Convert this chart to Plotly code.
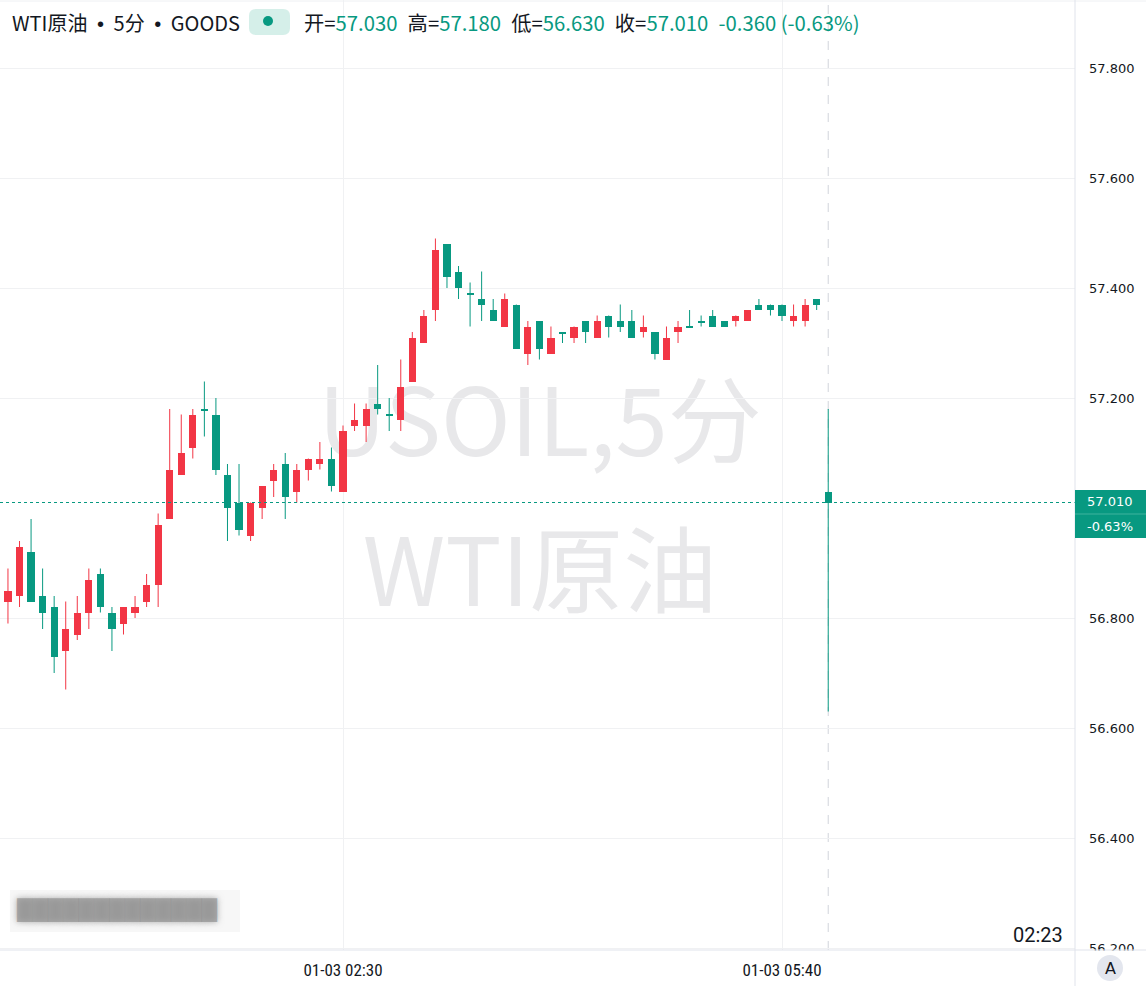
import plotly.graph_objects as go

# ---------------- data ----------------
TIMES = ["00:00", "00:05", "00:10", "00:15", "00:20", "00:25", "00:30", "00:35", "00:40", "00:45",
         "00:50", "00:55", "01:00", "01:05", "01:10", "01:15", "01:20", "01:25", "01:30", "01:35",
         "01:40", "01:45", "01:50", "01:55", "02:00", "02:05", "02:10", "02:15", "02:20", "02:25",
         "02:30", "02:35", "02:40", "02:45", "02:50", "02:55", "03:00", "03:05", "03:10", "03:15",
         "03:20", "03:25", "03:30", "03:35", "03:40", "03:45", "03:50", "03:55", "04:00", "04:05",
         "04:10", "04:15", "04:20", "04:25", "04:30", "04:35", "04:40", "04:45", "04:50", "04:55",
         "05:00", "05:05", "05:10", "05:15", "05:20", "05:25", "05:30", "05:35", "05:40", "05:45",
         "05:50", "05:55", "06:00"]

OPEN = [56.81, 56.83, 56.84, 56.92, 56.84, 56.82, 56.74, 56.77, 56.81, 56.88,
        56.81, 56.79, 56.81, 56.83, 56.86, 56.98, 57.06, 57.11, 57.180, 57.17,
        57.06, 57.01, 56.95, 57.00, 57.05, 57.08, 57.03, 57.07, 57.08, 57.09,
        57.03, 57.15, 57.15, 57.19, 57.170, 57.16, 57.23, 57.30, 57.36, 57.48,
        57.43, 57.390, 57.38, 57.36, 57.33, 57.37, 57.28, 57.34, 57.28, 57.320,
        57.31, 57.34, 57.31, 57.35, 57.34, 57.34, 57.32, 57.32, 57.27, 57.32,
        57.330, 57.340, 57.35, 57.34, 57.34, 57.34, 57.37, 57.37, 57.37, 57.34,
        57.34, 57.38, 57.03]
HIGH = [56.85, 56.89, 56.94, 56.98, 56.89, 56.84, 56.83, 56.84, 56.89, 56.89,
        56.82, 56.82, 56.84, 56.88, 56.99, 57.18, 57.17, 57.18, 57.23, 57.20,
        57.08, 57.08, 57.01, 57.04, 57.08, 57.10, 57.08, 57.09, 57.12, 57.11,
        57.15, 57.19, 57.19, 57.26, 57.20, 57.27, 57.32, 57.36, 57.49, 57.48,
        57.44, 57.41, 57.43, 57.38, 57.39, 57.37, 57.34, 57.34, 57.33, 57.32,
        57.33, 57.34, 57.35, 57.35, 57.37, 57.36, 57.35, 57.32, 57.33, 57.34,
        57.36, 57.35, 57.36, 57.34, 57.35, 57.36, 57.38, 57.37, 57.37, 57.37,
        57.38, 57.38, 57.18]
LOW = [56.79, 56.79, 56.82, 56.83, 56.78, 56.70, 56.67, 56.76, 56.78, 56.81,
       56.74, 56.77, 56.80, 56.82, 56.82, 56.98, 57.06, 57.09, 57.13, 57.06,
       56.94, 56.95, 56.94, 56.98, 57.02, 56.98, 57.01, 57.05, 57.07, 57.03,
       57.03, 57.14, 57.12, 57.17, 57.14, 57.14, 57.23, 57.30, 57.34, 57.40,
       57.38, 57.33, 57.34, 57.34, 57.33, 57.29, 57.26, 57.27, 57.28, 57.30,
       57.30, 57.30, 57.31, 57.31, 57.32, 57.31, 57.31, 57.27, 57.27, 57.30,
       57.328, 57.33, 57.33, 57.33, 57.33, 57.34, 57.36, 57.35, 57.34, 57.33,
       57.33, 57.36, 56.63]
CLOSE = [56.84, 56.85, 56.93, 56.83, 56.81, 56.73, 56.78, 56.81, 56.87, 56.82,
         56.78, 56.82, 56.82, 56.86, 56.97, 57.07, 57.10, 57.17, 57.178, 57.07,
         57.00, 56.96, 57.01, 57.04, 57.07, 57.02, 57.07, 57.09, 57.09, 57.04,
         57.14, 57.16, 57.18, 57.18, 57.168, 57.22, 57.31, 57.35, 57.47, 57.42,
         57.40, 57.388, 57.37, 57.34, 57.38, 57.29, 57.33, 57.29, 57.31, 57.318,
         57.33, 57.32, 57.34, 57.33, 57.33, 57.31, 57.33, 57.28, 57.31, 57.33,
         57.328, 57.338, 57.33, 57.33, 57.35, 57.36, 57.36, 57.36, 57.35, 57.35,
         57.37, 57.37, 57.01]

Y_TICKS = [56.2, 56.4, 56.6, 56.8, 57.2, 57.4, 57.6, 57.8]
X_TICK_TIMES = ["02:30", "05:40"]
X_TICK_LABELS = ["01-03 02:30", "01-03 05:40"]

SYMBOL = "WTI原油"
INTERVAL = "5分"
EXCHANGE = "GOODS"
TICKER = "USOIL"
CLOCK = "02:23"

# ---------------- styling / geometry ----------------
W, H = 1146, 986
ML, MR, MT, MB = 0, 71, 0, 36
PW, PH = W - ML - MR, H - MT - MB
UP = "#F23645"      # rising candle (red)
DOWN = "#089981"    # falling candle (green)
GRID = "#f0f1f3"
BORDER = "#e0e3eb"
TXT = "#131722"
CJK = "Noto Sans CJK SC, Noto Sans, sans-serif"
NUM = "DejaVu Sans, Verdana, sans-serif"
NARROW = "Liberation Sans Narrow, Arial Narrow, Roboto Condensed, Liberation Sans, sans-serif"
CLOCKFONT = "Roboto, Liberation Sans, sans-serif"

PX_PER_UNIT = 550.0         # vertical pixels per 1.0 price
PX_PER_BAR = 11.553         # horizontal pixels per bar
REF_BAR_PX = 343            # pixel of 02:30 bar

idx = list(range(len(TIMES)))
ref_i = TIMES.index(X_TICK_TIMES[0])
x0 = ref_i - REF_BAR_PX / PX_PER_BAR
x1 = x0 + PW / PX_PER_BAR
y_top = 57.8 + 68 / PX_PER_UNIT
y_bot = y_top - PH / PX_PER_UNIT


def px(xp):
    return xp / PW


def py(yp):
    return 1 - yp / PH


fig = go.Figure()

# wicks
for col, cond in ((UP, lambda o, c: c >= o), (DOWN, lambda o, c: c < o)):
    xs, ys = [], []
    for i, o, h, l, c in zip(idx, OPEN, HIGH, LOW, CLOSE):
        if cond(o, c):
            xs += [i, i, None]
            ys += [l, h, None]
    fig.add_trace(go.Scatter(x=xs, y=ys, mode="lines", line=dict(color=col, width=1),
                             hoverinfo="skip", showlegend=False))

# bodies
bases = [min(o, c) for o, c in zip(OPEN, CLOSE)]
heights = [max(abs(c - o), 0.002) for o, c in zip(OPEN, CLOSE)]
colors = [UP if c >= o else DOWN for o, c in zip(OPEN, CLOSE)]
fig.add_trace(go.Bar(x=idx, y=heights, base=bases, width=0.62, marker=dict(color=colors, line=dict(width=0)),
                     hoverinfo="skip", showlegend=False))

last_c = CLOSE[-1]
prev_c = CLOSE[-2]
chg = last_c - prev_c
pct = chg / prev_c * 100

shapes = []
# watermark (below traces)
shapes.append(dict(type="rect", xref="paper", yref="paper", x0=px(280), x1=px(800), y0=py(485), y1=py(375),
                   line=dict(width=0), fillcolor="rgba(0,0,0,0)", layer="below",
                   label=dict(text=f"{TICKER},{INTERVAL}", font=dict(size=94, color="#e8e8ea", family=CJK),
                              textposition="middle center")))
shapes.append(dict(type="rect", xref="paper", yref="paper", x0=px(280), x1=px(800), y0=py(635), y1=py(525),
                   line=dict(width=0), fillcolor="rgba(0,0,0,0)", layer="below",
                   label=dict(text=SYMBOL, font=dict(size=94, color="#e8e8ea", family=CJK),
                              textposition="middle center")))
# last price dotted line
shapes.append(dict(type="line", xref="paper", yref="y", x0=0, x1=1, y0=last_c, y1=last_c,
                   line=dict(color=DOWN, width=1, dash="dot")))
# session dashed vertical line at last bar
shapes.append(dict(type="line", xref="x", yref="paper", x0=idx[-1], x1=idx[-1], y0=0, y1=1,
                   line=dict(color="#d1d4dc", width=1, dash="dash"), layer="below"))
# price-scale area below the pane (clips the lowest label like the original)
shapes.append(dict(type="rect", xref="paper", yref="paper", x0=px(1076), x1=px(1146), y0=py(986), y1=py(950.5),
                   fillcolor="white", line=dict(width=0)))
# borders
shapes.append(dict(type="line", xref="paper", yref="paper", x0=0, x1=W / PW, y0=py(950), y1=py(950),
                   line=dict(color=BORDER, width=1)))
shapes.append(dict(type="line", xref="paper", yref="paper", x0=0, x1=W / PW, y0=py(1), y1=py(1),
                   line=dict(color="#eef0f3", width=1)))
shapes.append(dict(type="line", xref="paper", yref="paper", x0=1, x1=1, y0=py(986), y1=py(0),
                   line=dict(color=BORDER, width=1)))
# price label box
shapes.append(dict(type="rect", xref="paper", yref="paper", x0=px(1075), x1=px(1146), y0=py(538), y1=py(490),
                   fillcolor=DOWN, line=dict(width=0)))
shapes.append(dict(type="line", xref="paper", yref="paper", x0=px(1075), x1=px(1146), y0=py(514), y1=py(514),
                   line=dict(color="#3fb39e", width=1)))
# legend badge with dot
bx0, bx1, by0, by1, r = 249, 290, 9, 35, 7
path = (f"M {px(bx0 + r)},{py(by0)} L {px(bx1 - r)},{py(by0)} "
        f"Q {px(bx1)},{py(by0)} {px(bx1)},{py(by0 + r)} L {px(bx1)},{py(by1 - r)} "
        f"Q {px(bx1)},{py(by1)} {px(bx1 - r)},{py(by1)} L {px(bx0 + r)},{py(by1)} "
        f"Q {px(bx0)},{py(by1)} {px(bx0)},{py(by1 - r)} L {px(bx0)},{py(by0 + r)} "
        f"Q {px(bx0)},{py(by0)} {px(bx0 + r)},{py(by0)} Z")
shapes.append(dict(type="path", xref="paper", yref="paper", path=path, fillcolor="#d5efe9", line=dict(width=0)))
shapes.append(dict(type="circle", xref="paper", yref="paper", x0=px(263), x1=px(273), y0=py(26), y1=py(16),
                   fillcolor=DOWN, line=dict(width=0)))
# "A" auto-scale button
shapes.append(dict(type="circle", xref="paper", yref="paper", x0=px(1097), x1=px(1123), y0=py(981), y1=py(955),
                   fillcolor="#e3e6ee", line=dict(width=0)))
# blurred logo backdrop
shapes.append(dict(type="rect", xref="paper", yref="paper", x0=px(10), x1=px(240), y0=py(932), y1=py(890),
                   fillcolor="#f7f7f7", line=dict(width=0)))

G = DOWN
SEP = "\u2002"
vals = (f"开=<span style='color:{G}'>{OPEN[-1]:.3f}</span>{SEP}"
        f"高=<span style='color:{G}'>{HIGH[-1]:.3f}</span>{SEP}"
        f"低=<span style='color:{G}'>{LOW[-1]:.3f}</span>{SEP}"
        f"收=<span style='color:{G}'>{last_c:.3f}</span>{SEP}"
        f"<span style='color:{G}'>{chg:+.3f} ({pct:+.2f}%)</span>").replace("+", "")
TSEP = "<span style='font-family:Liberation Sans'> \u2009•\u2009 </span>"

annotations = [
    dict(x=px(10), y=py(22), xref="paper", yref="paper", xanchor="left", yanchor="middle", showarrow=False,
         text=f"{SYMBOL}{TSEP}{INTERVAL}{TSEP}{EXCHANGE}", font=dict(size=20, color=TXT, family=CJK)),
    dict(x=px(302), y=py(22), xref="paper", yref="paper", xanchor="left", yanchor="middle", showarrow=False,
         text=vals, font=dict(size=20.3, color=TXT, family=CJK)),
    dict(x=px(1110), y=py(502), xref="paper", yref="paper", xanchor="center", yanchor="middle", showarrow=False,
         text=f"{last_c:.3f}", font=dict(size=13, color="white", family=NUM)),
    dict(x=px(1110), y=py(526), xref="paper", yref="paper", xanchor="center", yanchor="middle", showarrow=False,
         text=f"{pct:.2f}%", font=dict(size=13, color="white", family=NUM)),
    dict(x=px(1065), y=py(935), xref="paper", yref="paper", xanchor="right", yanchor="middle", showarrow=False,
         text=CLOCK, font=dict(size=20, color=TXT, family=CLOCKFONT)),
    dict(x=px(1110), y=py(968), xref="paper", yref="paper", xanchor="center", yanchor="middle", showarrow=False,
         text="A", font=dict(size=16, color=TXT, family=NUM)),
    # blurred (unreadable) logo rendered as a soft gray smudge
    dict(x=px(14), y=py(910), xref="paper", yref="paper", xanchor="left", yanchor="middle", showarrow=False,
         text="█████████████", font=dict(size=20, color="rgba(145,145,145,0.7)", family=NUM,
                                           shadow="0px 0px 6px rgba(140,140,140,1)")),
]

fig.update_layout(
    width=W, height=H,
    margin=dict(l=ML, r=MR, t=MT, b=MB),
    paper_bgcolor="white", plot_bgcolor="white",
    showlegend=False, bargap=0,
    shapes=shapes, annotations=annotations,
    xaxis=dict(range=[x0, x1], tickvals=[TIMES.index(t) for t in X_TICK_TIMES], ticktext=X_TICK_LABELS,
               showgrid=True, gridcolor=GRID, gridwidth=1, zeroline=False, showline=False,
               ticks="", ticklabelstandoff=8, tickfont=dict(size=17, color=TXT, family=NARROW),
               fixedrange=True),
    yaxis=dict(range=[y_bot, y_top], side="right", tickvals=Y_TICKS, ticktext=[f"{v:.3f}" for v in Y_TICKS],
               showgrid=True, gridcolor=GRID, gridwidth=1, zeroline=False, showline=False,
               ticks="", ticklabelstandoff=13, tickfont=dict(size=13, color=TXT, family=NUM),
               fixedrange=True),
)

fig.write_html("out.html", config={"displayModeBar": False},
               post_script="document.body.style.margin='0';document.body.style.overflow='hidden';")
